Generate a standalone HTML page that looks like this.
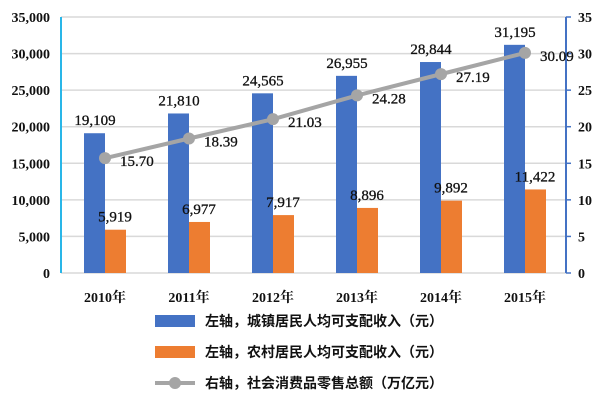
<!DOCTYPE html>
<html><head><meta charset="utf-8"><style>
body{margin:0;background:#fff;}
svg text{font-family:"Liberation Serif","Noto Serif CJK SC",serif;fill:#111;}
.lg{font-family:"Liberation Sans","Noto Sans CJK SC",sans-serif;font-weight:bold;font-size:14px;}
</style></head><body>
<svg id="c" width="600" height="406" xmlns="http://www.w3.org/2000/svg"></svg>
<script>
const categories=["2010年","2011年","2012年","2013年","2014年","2015年"];
const urban=[19109,21810,24565,26955,28844,31195];
const rural=[5919,6977,7917,8896,9892,11422];
const retail=[15.70,18.39,21.03,24.28,27.19,30.09];
const leftTicks=[0,5000,10000,15000,20000,25000,30000,35000];
const rightTicks=[0,5,10,15,20,25,30,35];
const svg=document.getElementById('c');const NS="http://www.w3.org/2000/svg";
function el(t,a,p){const e=document.createElementNS(NS,t);for(const k in a)e.setAttribute(k,a[k]);(p||svg).appendChild(e);return e;}
const x0=63,x1=567,yB=273,yT=17;
const yL=v=>yB-(v/35000)*(yB-yT);
const yR=v=>yB-(v/35)*(yB-yT);
const cx=i=>x0+(x1-x0)/categories.length*(i+0.5);
const fmt=v=>v.toLocaleString('en-US');
leftTicks.forEach(v=>{
 const g=el('line',{x1:61,x2:566,y1:yL(v),y2:yL(v),stroke:'#d9d9d9','stroke-width':1.5});
 
 const t=el('text',{x:50,y:yL(v)+5,'text-anchor':'end','font-size':14,'font-weight':'bold'});t.textContent=fmt(v);
 
});
rightTicks.forEach(v=>{
 const tk=el('line',{x1:566,x2:571,y1:yR(v),y2:yR(v),stroke:'#4472c4','stroke-width':1.5});
 
 const t=el('text',{x:578,y:yR(v)+5,'font-size':14,'font-weight':'bold'});t.textContent=v;
 
});
const la=el('line',{x1:61,x2:61,y1:yT,y2:yB,stroke:'#29b6e8','stroke-width':2});

const ra=el('line',{x1:566,x2:566,y1:yT,y2:yB,stroke:'#4472c4','stroke-width':2});

categories.forEach((c,i)=>{
 const x=cx(i);
 const b=el('rect',{x:x-21,y:yL(urban[i]),width:21,height:yB-yL(urban[i]),fill:'#4472c4'});
 
 const o=el('rect',{x:x,y:yL(rural[i]),width:21,height:yB-yL(rural[i]),fill:'#ed7d31'});
 
 const t1=el('text',{x:x-10,y:yL(urban[i])-8,'text-anchor':'middle','font-size':15,'stroke':'#111','stroke-width':0.3});t1.textContent=fmt(urban[i]);
 
 const t2=el('text',{x:x+10,y:yL(rural[i])-8,'text-anchor':'middle','font-size':15,'stroke':'#111','stroke-width':0.3});t2.textContent=fmt(rural[i]);
 
 const xl=el('text',{x:x,y:302,'text-anchor':'middle','font-size':14,'font-weight':'bold'});xl.textContent=c;
 
});
const pl=el('polyline',{points:retail.map((v,i)=>cx(i)+','+yR(v)).join(' '),fill:'none',stroke:'#a5a5a5','stroke-width':4});

retail.forEach((v,i)=>{
 const p=el('circle',{cx:cx(i),cy:yR(v),r:6,fill:'#a5a5a5'});
 
 const t=el('text',{x:cx(i)+15,y:yR(v)+8,'font-size':15,'stroke':'#111','stroke-width':0.3});t.textContent=v.toFixed(2);
 
});
const leg=[["#4472c4","左轴，城镇居民人均可支配收入（元）",'rect'],["#ed7d31","左轴，农村居民人均可支配收入（元）",'rect'],["#a5a5a5","右轴，社会消费品零售总额（万亿元）",'line']];
leg.forEach((l,i)=>{
 const y=321+i*31;
 if(l[2]==='rect'){const r=el('rect',{x:155,y:y-6,width:40,height:12,fill:l[0]});}
 else{const ln=el('line',{x1:155,x2:195,y1:y,y2:y,stroke:l[0],'stroke-width':4});
  const c=el('circle',{cx:175,cy:y,r:6,fill:l[0]});}
 const t=el('text',{x:205,y:y+5,class:'lg'});t.textContent=l[1];
 
});
</script>
</body></html>
